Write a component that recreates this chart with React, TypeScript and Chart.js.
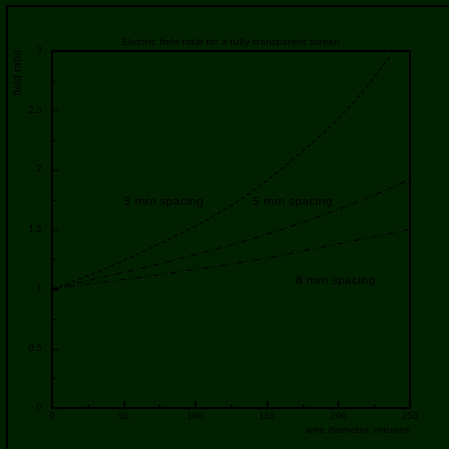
import { useEffect, useRef } from 'react';
import { Chart, registerables } from 'chart.js';

Chart.register(...registerables);

// Wire diameter in microns
const diameters = [0, 25, 50, 75, 100, 125, 150, 175, 200, 225, 250];

// Field ratio for each wire spacing
const ratio3mm = [1.0, 1.11, 1.24, 1.38, 1.53, 1.7, 1.91, 2.16, 2.43, 2.78, 3.2];
const ratio5mm = [1.0, 1.07, 1.14, 1.21, 1.29, 1.37, 1.46, 1.56, 1.67, 1.79, 1.92];
const ratio8mm = [1.0, 1.04, 1.08, 1.12, 1.165, 1.21, 1.26, 1.32, 1.38, 1.44, 1.5];

const seriesNames = ['3 mm spacing', '5 mm spacing', '8 mm spacing'];
const seriesDashes = [[4, 3], [6, 3, 1, 3], [6, 3, 1, 3, 1, 3]];

// Curve captions anchored in data coordinates (left edge, vertical centre)
const captionX = [50, 140, 170];
const captionY = [1.73, 1.73, 1.067];

const xMajor = [0, 50, 100, 150, 200, 250];
const xMinor = [25, 75, 125, 175, 225];
const yMajor = [0, 0.5, 1, 1.5, 2, 2.5, 3];
const yMinor = [0.25, 0.75, 1.25, 1.75, 2.25, 2.75];

const titleText = 'Electric field ratio for a fully transparent screen';
const xTitle = 'wire diameter, microns';
const yTitle = 'field ratio';

const BG = 'rgb(0,32,0)';
const INK = '#000000';
const FONT = '"DejaVu Sans", sans-serif';

const framePlugin = {
  id: 'frame',
  beforeDraw(chart: any) {
    const { ctx, width, height } = chart;
    ctx.save();
    ctx.fillStyle = BG;
    ctx.fillRect(0, 0, width, height);
    ctx.restore();
  },
  afterDraw(chart: any) {
    const { ctx, chartArea: a, scales } = chart;
    const xs = scales.x;
    const ys = scales.y;
    ctx.save();
    ctx.strokeStyle = INK;
    ctx.fillStyle = INK;

    // outer frame
    ctx.lineWidth = 2;
    ctx.beginPath();
    ctx.moveTo(7, chart.height);
    ctx.lineTo(7, 6);
    ctx.lineTo(chart.width, 6);
    ctx.stroke();

    // plot box
    ctx.lineWidth = 2;
    ctx.strokeRect(a.left, a.top, a.right - a.left, a.bottom - a.top);

    // inward tick marks
    ctx.lineWidth = 1.5;
    ctx.beginPath();
    for (const v of xMajor) {
      const px = Math.round(xs.getPixelForValue(v)) + 0.5;
      ctx.moveTo(px, a.bottom);
      ctx.lineTo(px, a.bottom - 7);
    }
    for (const v of xMinor) {
      const px = Math.round(xs.getPixelForValue(v)) + 0.5;
      ctx.moveTo(px, a.bottom);
      ctx.lineTo(px, a.bottom - 4);
    }
    for (const v of yMajor) {
      const py = Math.round(ys.getPixelForValue(v)) + 0.5;
      ctx.moveTo(a.left, py);
      ctx.lineTo(a.left + 7, py);
    }
    for (const v of yMinor) {
      const py = Math.round(ys.getPixelForValue(v)) + 0.5;
      ctx.moveTo(a.left, py);
      ctx.lineTo(a.left + 4, py);
    }
    ctx.stroke();

    // title
    ctx.font = `9.2px ${FONT}`;
    ctx.textAlign = 'center';
    ctx.textBaseline = 'middle';
    ctx.fillText(titleText, (a.left + a.right) / 2, a.top - 8);

    // x axis title
    ctx.font = `9px ${FONT}`;
    ctx.textAlign = 'right';
    ctx.fillText(xTitle, a.right, a.bottom + 23);

    // y axis title, rotated
    ctx.save();
    ctx.font = `9.6px ${FONT}`;
    ctx.translate(18.5, a.top - 1);
    ctx.rotate(-Math.PI / 2);
    ctx.textAlign = 'right';
    ctx.textBaseline = 'middle';
    ctx.fillText(yTitle, 0, 0);
    ctx.restore();

    // curve captions
    ctx.font = `11.3px ${FONT}`;
    ctx.textAlign = 'left';
    ctx.textBaseline = 'middle';
    seriesNames.forEach((name, i) => {
      ctx.fillText(name, xs.getPixelForValue(captionX[i]), ys.getPixelForValue(captionY[i]));
    });

    ctx.restore();
  },
};

export default function App() {
  const canvasRef = useRef<HTMLCanvasElement | null>(null);

  useEffect(() => {
    document.body.style.margin = '0';
    const canvas = canvasRef.current;
    if (!canvas) return;
    const series = [ratio3mm, ratio5mm, ratio8mm];
    const chart = new Chart(canvas, {
      type: 'line',
      data: {
        datasets: series.map((vals, i) => ({
          label: seriesNames[i],
          data: diameters.map((d, j) => ({ x: d, y: vals[j] })),
          borderColor: INK,
          borderWidth: 1.2,
          borderDash: seriesDashes[i],
          pointRadius: 0,
          fill: false,
          cubicInterpolationMode: 'monotone' as const,
        })),
      },
      options: {
        responsive: false,
        animation: false,
        devicePixelRatio: 1,
        layout: { padding: { left: 0, top: 51, right: 39, bottom: 0 } },
        plugins: {
          legend: { display: false },
          title: { display: false },
          tooltip: { enabled: false },
        },
        scales: {
          x: {
            type: 'linear',
            min: 0,
            max: 250,
            grid: { display: false, drawTicks: false },
            border: { display: false },
            ticks: {
              stepSize: 50,
              padding: 4,
              color: INK,
              font: { family: FONT, size: 8.5 },
              maxRotation: 0,
              autoSkip: false,
            },
            afterFit(scale: any) {
              scale.height = 41;
            },
          },
          y: {
            type: 'linear',
            min: 0,
            max: 3,
            grid: { display: false, drawTicks: false },
            border: { display: false },
            ticks: {
              stepSize: 0.5,
              padding: 10,
              color: INK,
              font: { family: FONT, size: 8.5 },
              callback: (v: any) => String(v),
            },
            afterFit(scale: any) {
              scale.width = 52;
            },
          },
        },
      },
      plugins: [framePlugin],
    });
    return () => chart.destroy();
  }, []);

  return (
    <div style={{ position: 'fixed', left: 0, top: 0, width: 449, height: 449 }}>
      <canvas ref={canvasRef} width={449} height={449} />
    </div>
  );
}
